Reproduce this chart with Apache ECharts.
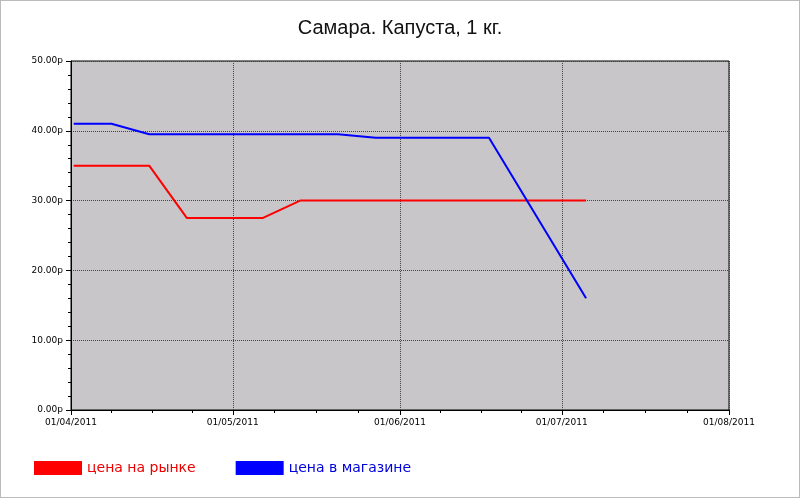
<!DOCTYPE html>
<html><head><meta charset="utf-8">
<script src="https://cdn.jsdelivr.net/npm/echarts@6/dist/echarts.min.js"></script>
<style>html,body{margin:0;padding:0;background:#fff}#c{width:800px;height:498px;border:1px solid #bbb;box-sizing:border-box}</style>
</head><body><div id="c"></div>
<script>
const dates = ['2011-04-01','2011-04-08','2011-04-15','2011-04-22','2011-04-29','2011-05-06','2011-05-13','2011-05-20','2011-05-27','2011-06-03','2011-06-10','2011-06-17','2011-06-24','2011-07-05'];
const marketPrices = [35,35,35,27.5,27.5,27.5,30,30,30,30,30,30,30,30];
const shopPrices = [41,41,39.5,39.5,39.5,39.5,39.5,39.5,39,39,39,39,null,16];
const yTicks = [0,10,20,30,40,50];
const pair = (vals) => dates.map((d,i)=>[d+'T12:00:00',vals[i]]).filter(p=>p[1]!==null);
const chart = echarts.init(document.getElementById('c'));
chart.setOption({
  animation:false,
  title:{text:'Самара. Капуста, 1 кг.',left:'center',top:12,textStyle:{fontFamily:'Liberation Sans',fontSize:20,fontWeight:'normal',color:'#111'}},
  legend:{left:28,bottom:17,itemWidth:48,itemHeight:14,itemGap:40,icon:'rect',
    textStyle:{fontFamily:'DejaVu Sans',fontSize:14,color:'#c00'},
    data:[{name:'цена на рынке',textStyle:{color:'#e00'}},{name:'цена в магазине',textStyle:{color:'#00d'}}]},
  grid:{left:70,right:70,top:60,bottom:87,show:true,backgroundColor:'#c8c6c9',borderColor:'#000',borderWidth:1},
  xAxis:{type:'time',min:'2011-04-01T00:00:00',max:'2011-08-01T00:00:00',splitNumber:4,
    axisLine:{lineStyle:{color:'#000'}},axisTick:{lineStyle:{color:'#000'}},
    minorTick:{show:true,splitNumber:4,lineStyle:{color:'#000'}},
    axisLabel:{fontSize:9,color:'#000',fontFamily:'DejaVu Sans',showMaxLabel:true,showMinLabel:true,formatter:v=>{const d=new Date(v);return String(d.getDate()).padStart(2,'0')+'/'+String(d.getMonth()+1).padStart(2,'0')+'/'+d.getFullYear();}},
    splitLine:{show:true,lineStyle:{color:'#444',type:'dotted'}}},
  yAxis:{type:'value',min:yTicks[0],max:yTicks[yTicks.length-1],interval:10,
    axisLine:{show:true,lineStyle:{color:'#000'}},axisTick:{show:true,lineStyle:{color:'#000'}},
    minorTick:{show:true,splitNumber:5,lineStyle:{color:'#000'}},
    axisLabel:{fontSize:9,color:'#000',fontFamily:'DejaVu Sans',formatter:v=>v.toFixed(2)+'р'},
    splitLine:{show:true,lineStyle:{color:'#444',type:'dotted'}}},
  series:[
    {name:'цена на рынке',type:'line',data:pair(marketPrices),symbol:'none',itemStyle:{color:'#f00'},lineStyle:{color:'#f00',width:2}},
    {name:'цена в магазине',type:'line',data:pair(shopPrices),symbol:'none',itemStyle:{color:'#00f'},lineStyle:{color:'#00f',width:2}}
  ]
});
</script></body></html>
